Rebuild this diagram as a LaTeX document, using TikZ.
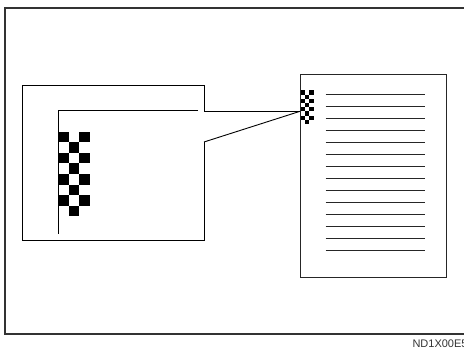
\documentclass[tikz,border=0pt]{standalone}
\usepackage{fontspec}
\setmainfont{Liberation Sans}
\begin{document}
\begin{tikzpicture}[x=1pt,y=-1pt,
  frame/.style={line width=1.4pt,draw=black!80},
  thin/.style={line width=0.9pt,draw=black},
  pageline/.style={line width=0.9pt,draw=black!85},
  sq/.style={fill=black}]
\useasboundingbox (0,0) rectangle (464,350);
% outer frame (open on the right)
\draw[frame] (470,8) -- (5,8) -- (5,334) -- (470,334);
% magnified box
\coordinate (bt) at (204,111);
\coordinate (bb) at (204,142);
\coordinate (tip) at (301,111);
\draw[thin] (bt) -- (204,85) -- (22,85) -- (22,240) -- (204,240) -- (bb);
\draw[thin] (bt) -- (tip);
\draw[thin] (bb) -- (tip);
% inner L
\draw[thin] (198,110) -- (58,110) -- (58,234);
% big checker
\foreach \r in {0,...,7}{
  \pgfmathtruncatemacro{\odd}{mod(\r,2)}
  \ifnum\odd=0
    \fill (58,131.7+\r*10.6) rectangle ++(10.6,10.6);
    \fill (58+21.2,131.7+\r*10.6) rectangle ++(10.6,10.6);
  \else
    \fill (58+10.6,131.7+\r*10.6) rectangle ++(10.6,10.6);
  \fi
}
% page
\draw[pageline] (300.7,74.3) rectangle (446.7,277.3);
\foreach \i in {0,...,13}{
  \draw[pageline] (325.7,94.3+\i*12.03) -- (425,94.3+\i*12.03);
}
% small checker
\foreach \r in {0,...,7}{
  \pgfmathtruncatemacro{\odd}{mod(\r,2)}
  \ifnum\odd=0
    \fill (301,90.5+\r*4.2) rectangle ++(4.2,4.2);
    \fill (301+8.4,90.5+\r*4.2) rectangle ++(4.2,4.2);
  \else
    \fill (301+4.2,90.5+\r*4.2) rectangle ++(4.2,4.2);
  \fi
}
% label
\node[anchor=base west,inner sep=0pt,font=\fontsize{11}{13}\selectfont,text=black!80] (lab) at (412.3,347.8) {ND1X00E5};
\end{tikzpicture}
\end{document}
